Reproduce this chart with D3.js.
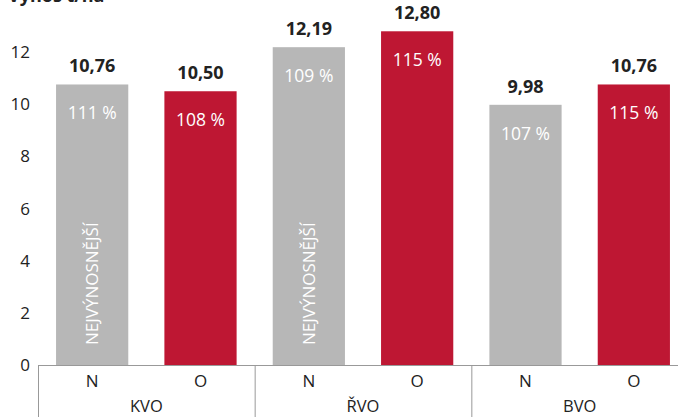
<!DOCTYPE html>
<html><head><meta charset="utf-8">
<script src="https://cdn.jsdelivr.net/npm/d3@7"></script>
<style>body{margin:0;background:#fff}svg{display:block}text{font-family:"Open Sans",sans-serif}</style>
</head><body><svg id="c" width="678" height="417"></svg>
<script>
const groups = ["KVO","ŘVO","BVO"];
const subs = ["N","O"];
const values = [[10.76,10.50],[12.19,12.80],[9.98,10.76]];
const valueLabels = [["10,76","10,50"],["12,19","12,80"],["9,98","10,76"]];
const pctLabels = [["111 %","108 %"],["109 %","115 %"],["107 %","115 %"]];
const notes = [["NEJVÝNOSNĚJŠÍ",""],["NEJVÝNOSNĚJŠÍ",""],["",""]];
const yTicks = [0,2,4,6,8,10,12];
const title = "Výnos t/ha";
const colors = {N:"#b7b7b7", O:"#be1733"};

const svg = d3.select("#c");
const y = d3.scaleLinear().domain([0,14]).range([365,0]);
const x0 = d3.scaleBand().domain(groups).range([38,688]).padding(0);
const x1 = d3.scaleBand().domain(subs).range([0,x0.bandwidth()]).paddingInner(1/3).paddingOuter(1/6);

svg.append("text").attr("x",8).attr("y",2).attr("font-weight","bold").attr("font-size",18).attr("fill","#222").text(title);

const yAxis = svg.append("g").attr("transform","translate(30,0)")
  .call(d3.axisLeft(y).tickValues(yTicks).tickSize(0).tickPadding(0).tickFormat(d3.format("d")));
yAxis.select(".domain").remove();
yAxis.selectAll("text").attr("font-size",17).attr("fill","#222").attr("font-family","Open Sans, sans-serif");

const data = [];
groups.forEach((g,i)=>subs.forEach((s,j)=>data.push({g,s,v:values[i][j],vl:valueLabels[i][j],pl:pctLabels[i][j],note:notes[i][j]})));

const bars = svg.append("g").selectAll("g").data(data).join("g")
  .attr("transform",d=>`translate(${x0(d.g)+x1(d.s)},0)`);
bars.append("rect").attr("x",0).attr("width",x1.bandwidth())
  .attr("y",d=>y(d.v)).attr("height",d=>y(0)-y(d.v)).attr("fill",d=>colors[d.s]);
bars.append("text").attr("x",x1.bandwidth()/2).attr("y",d=>y(d.v)-12)
  .attr("text-anchor","middle").attr("font-weight","bold").attr("font-size",18).attr("fill","#222").text(d=>d.vl);
bars.append("text").attr("x",x1.bandwidth()/2).attr("y",d=>y(d.v)+35)
  .attr("text-anchor","middle").attr("font-size",17.5).attr("fill","#fff").text(d=>d.pl);
bars.filter(d=>d.note).append("text")
  .attr("transform",`translate(${x1.bandwidth()/2+6},345) rotate(-90)`)
  .attr("font-size",17).attr("fill","#fff").text(d=>d.note);

// x axis
svg.append("line").attr("x1",38).attr("x2",688).attr("y1",y(0)+0.5).attr("y2",y(0)+0.5).attr("stroke","#999");
groups.forEach(g=>{
  svg.append("line").attr("x1",x0(g)+0.5).attr("x2",x0(g)+0.5).attr("y1",y(0)).attr("y2",417).attr("stroke","#999");
  subs.forEach(s=>{
    svg.append("text").attr("x",x0(g)+x1(s)+x1.bandwidth()/2).attr("y",387).attr("text-anchor","middle")
      .attr("font-size",17).attr("fill","#222").text(s);
  });
  svg.append("text").attr("x",x0(g)+x0.bandwidth()/2).attr("y",412).attr("text-anchor","middle")
    .attr("font-size",16.5).attr("fill","#222").text(g);
});
</script></body></html>
